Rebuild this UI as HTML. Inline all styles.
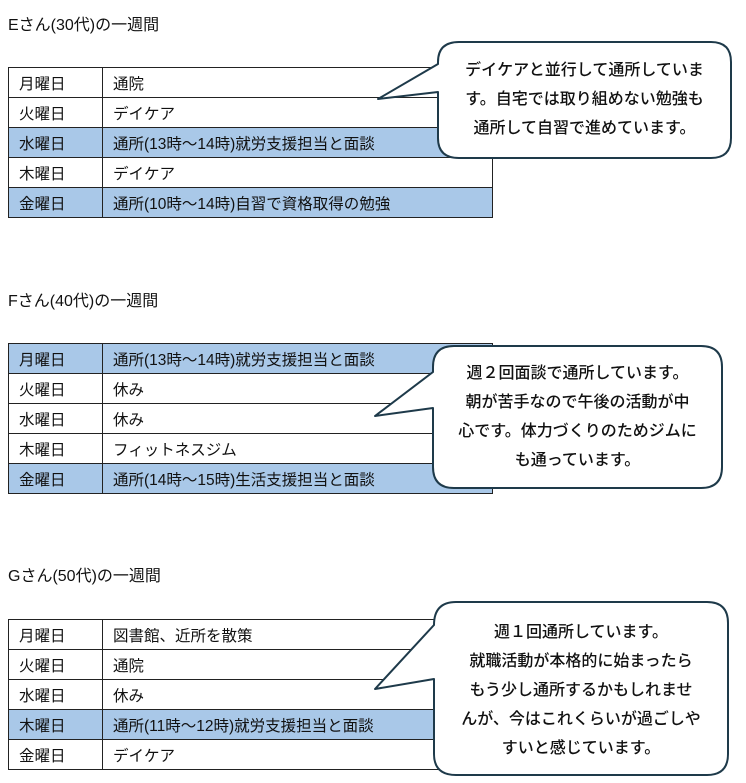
<!DOCTYPE html>
<html><head><meta charset="utf-8"><style>
body{margin:0;width:746px;height:783px;background:#fff;position:relative;overflow:hidden;font-family:"Liberation Sans","Noto Sans CJK JP",sans-serif;color:#111}
.h{position:absolute;left:8px;font-size:16px}
table{position:absolute;left:8px;width:485px;border-collapse:collapse;font-size:15.5px}
td{border:1px solid #222;height:30px;padding:0 0 0 10px;box-sizing:border-box}
td:first-child{width:94px}
.b td{background:#a9c8e8}
svg{position:absolute;left:0;top:0}
.bt{position:absolute;font-size:16px;text-align:center;line-height:29px;font-weight:500}
</style></head><body>
<div class="h" style="top:11px">Eさん(30代)の一週間</div>
<table style="top:67px">
<tr><td>月曜日</td><td>通院</td></tr>
<tr><td>火曜日</td><td>デイケア</td></tr>
<tr class="b"><td>水曜日</td><td>通所(13時～14時)就労支援担当と面談</td></tr>
<tr><td>木曜日</td><td>デイケア</td></tr>
<tr class="b"><td>金曜日</td><td>通所(10時～14時)自習で資格取得の勉強</td></tr>
</table>
<div class="h" style="top:287px">Fさん(40代)の一週間</div>
<table style="top:343px">
<tr class="b"><td>月曜日</td><td>通所(13時～14時)就労支援担当と面談</td></tr>
<tr><td>火曜日</td><td>休み</td></tr>
<tr><td>水曜日</td><td>休み</td></tr>
<tr><td>木曜日</td><td>フィットネスジム</td></tr>
<tr class="b"><td>金曜日</td><td>通所(14時～15時)生活支援担当と面談</td></tr>
</table>
<div class="h" style="top:562px">Gさん(50代)の一週間</div>
<table style="top:619px">
<tr><td>月曜日</td><td>図書館、近所を散策</td></tr>
<tr><td>火曜日</td><td>通院</td></tr>
<tr><td>水曜日</td><td>休み</td></tr>
<tr class="b"><td>木曜日</td><td>通所(11時～12時)就労支援担当と面談</td></tr>
<tr><td>金曜日</td><td>デイケア</td></tr>
</table>
<svg width="746" height="783">
<g fill="#fff" stroke="#1e3a4a" stroke-width="2" stroke-linejoin="round">
<path d="M459,42 H711 Q731,42 731,62 V138 Q731,158 711,158 H459 Q438,158 438,138 V92 L378,99 L438,64 V62 Q438,42 459,42 Z"/>
<path d="M454,346 H701 Q722,346 722,367 V467 Q722,488 701,488 H454 Q433,488 433,467 V408 L375,416 L433,372 V367 Q433,346 454,346 Z"/>
<path d="M456,602 H707 Q728,602 728,623 V754 Q728,775 707,775 H456 Q434,775 434,754 V679 L375,689 L434,625 Q434,602 456,602 Z"/>
</g></svg>
<div class="bt" style="left:438px;top:56px;width:293px">デイケアと並行して通所していま<br>す。自宅では取り組めない勉強も<br>通所して自習で進めています。</div>
<div class="bt" style="left:433px;top:359px;width:289px">週２回面談で通所しています。<br>朝が苦手なので午後の活動が中<br>心です。体力づくりのためジムに<br>も通っています。</div>
<div class="bt" style="left:434px;top:618px;width:294px">週１回通所しています。<br>就職活動が本格的に始まったら<br>もう少し通所するかもしれませ<br>んが、今はこれくらいが過ごしや<br>すいと感じています。</div>
</body></html>
